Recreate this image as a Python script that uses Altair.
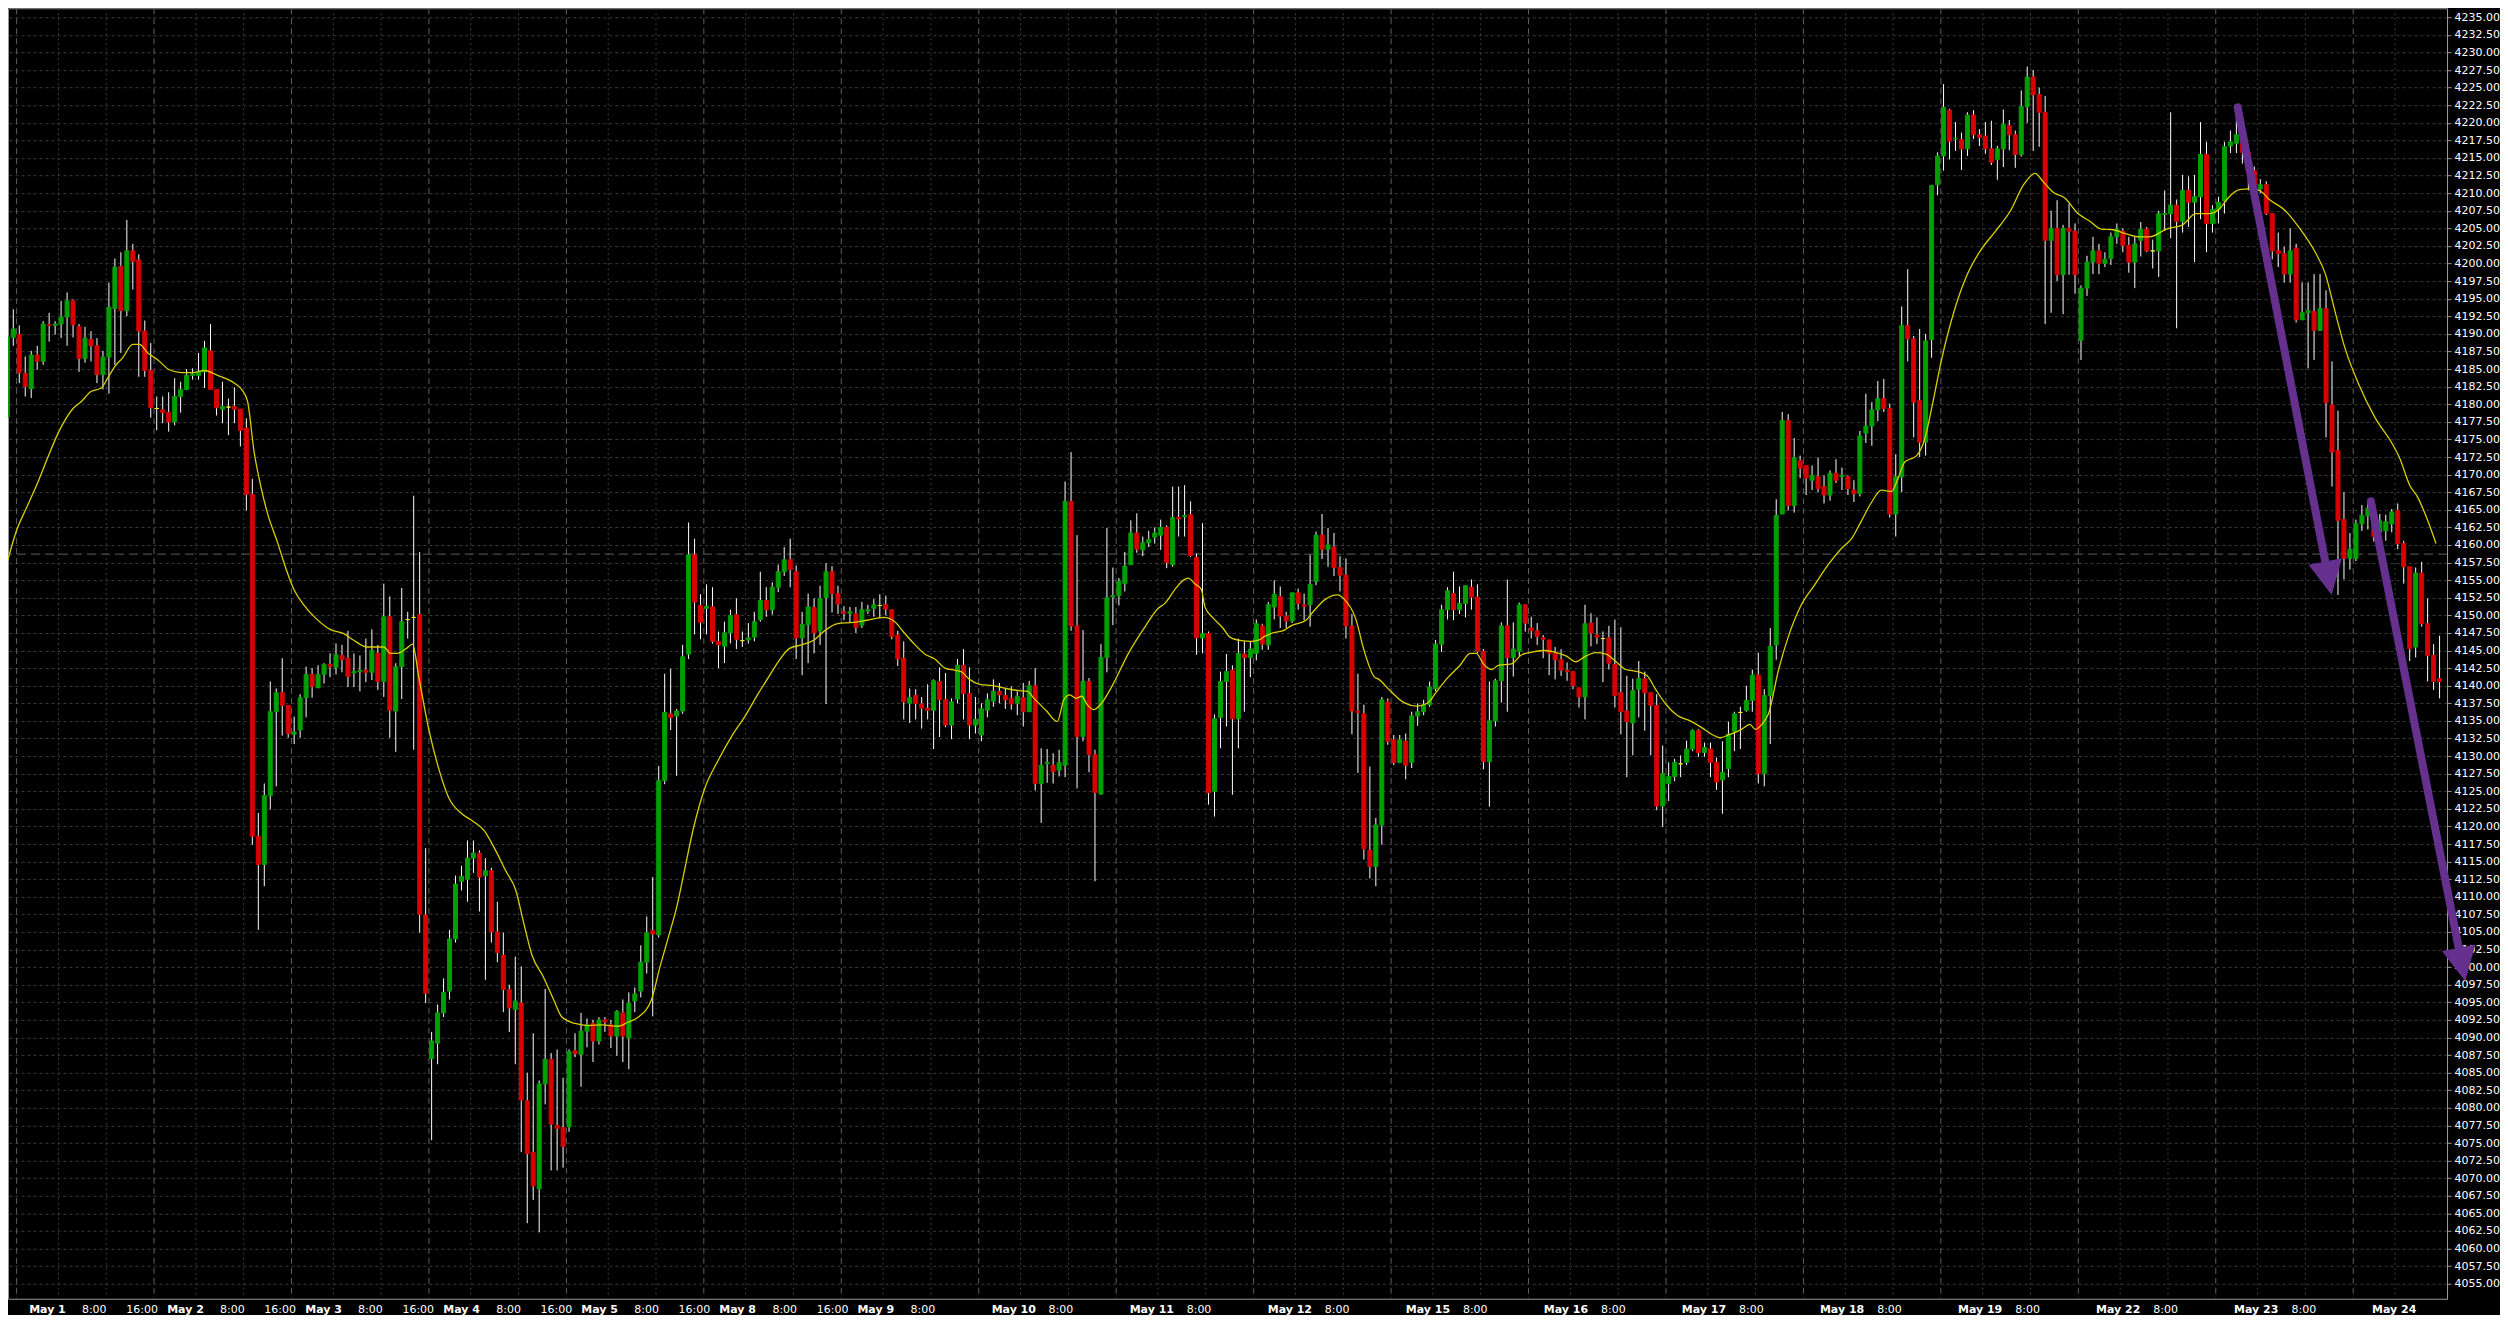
import math
import altair as alt
import pandas as pd

# ---------------- data (hourly OHLC, bar 0 = first visible bar) ----------------
OPEN = [
4178.2,4189.5,4189.9,4184.4,4182.2,4187.0,4186.1,4191.3,4191.2,4191.4,
4192.4,4194.7,4191.0,4186.5,4189.2,4188.3,4184.2,4186.7,4193.6,4199.6,
4193.3,4201.8,4200.5,4190.4,4184.8,4179.4,4179.2,4178.8,4177.5,4181.1,
4182.1,4184.1,4184.1,4184.6,4187.6,4182.1,4179.3,4179.6,4179.7,4179.3,
4176.6,4167.2,4118.6,4114.6,4124.4,4136.3,4139.0,4137.2,4133.1,4133.7,
4138.3,4141.6,4139.7,4141.6,4143.0,4142.6,4144.3,4143.9,4141.8,4142.0,
4142.2,4141.9,4144.6,4140.6,4149.8,4136.4,4142.7,4149.4,4149.7,4150.1,
4107.4,4087.0,4089.2,4093.5,4096.6,4104.0,4112.2,4112.5,4115.5,4116.2,
4113.0,4113.7,4105.0,4101.7,4096.8,4094.0,4094.9,4081.0,4073.7,4068.5,
4083.4,4086.9,4077.5,4077.2,4077.3,4088.1,4087.6,4090.9,4092.0,4089.5,
4092.5,4091.8,4090.2,4093.5,4089.9,4095.2,4096.6,4100.7,4105.2,4104.6,
4126.5,4136.0,4135.7,4136.4,4144.5,4158.6,4151.4,4151.0,4151.2,4146.3,
4145.6,4147.5,4150.1,4146.4,4146.5,4146.9,4149.4,4152.1,4150.8,4154.0,
4156.2,4157.9,4156.2,4146.8,4148.7,4151.1,4147.8,4152.5,4156.2,4153.1,
4150.5,4150.3,4150.2,4148.6,4150.6,4151.0,4151.4,4151.5,4150.8,4147.2,
4143.9,4137.5,4138.6,4137.4,4136.8,4136.5,4140.6,4138.0,4134.4,4138.1,
4142.9,4138.9,4134.4,4133.0,4136.5,4137.8,4139.2,4138.6,4138.2,4137.5,
4138.3,4136.3,4140.0,4126.1,4128.9,4128.7,4128.0,4128.7,4166.2,4148.5,
4132.8,4140.6,4130.2,4124.6,4144.0,4152.6,4152.8,4154.5,4157.2,4161.7,
4159.3,4160.3,4161.1,4161.4,4162.5,4157.2,4163.9,4164.0,4164.3,4158.2,
4146.8,4147.4,4125.0,4135.5,4140.6,4142.2,4135.3,4144.5,4144.0,4144.6,
4148.5,4145.8,4151.2,4152.7,4149.9,4149.2,4153.2,4151.5,4151.5,4154.8,
4161.4,4159.4,4159.7,4156.8,4155.7,4148.5,4136.4,4136.0,4116.6,4114.3,
4120.2,4137.7,4132.3,4129.1,4132.1,4129.1,4135.7,4136.3,4137.3,4139.6,
4145.9,4150.8,4153.1,4150.8,4151.7,4154.0,4152.6,4144.9,4129.2,4135.0,
4140.7,4148.5,4144.0,4144.9,4151.5,4148.2,4147.8,4146.8,4146.5,4144.6,
4143.7,4142.2,4142.0,4139.7,4138.4,4148.9,4147.2,4146.7,4146.8,4143.0,
4139.0,4136.4,4134.7,4139.5,4141.0,4139.0,4137.2,4122.9,4126.1,4127.1,
4128.9,4129.1,4131.0,4133.6,4130.5,4131.0,4129.1,4126.6,4128.2,4133.5,
4136.2,4136.5,4137.9,4141.5,4127.5,4138.6,4145.8,4164.4,4177.7,4165.6,
4172.0,4171.3,4169.2,4169.7,4168.3,4167.1,4170.2,4169.7,4169.7,4167.8,
4167.3,4175.9,4176.9,4179.2,4180.8,4179.4,4164.4,4169.7,4191.2,4189.3,
4180.5,4174.6,4189.2,4211.2,4215.3,4221.8,4217.7,4217.6,4216.3,4221.1,
4218.3,4218.1,4216.3,4214.8,4216.3,4219.6,4218.3,4215.5,4222.3,4226.5,
4224.0,4221.5,4203.3,4205.0,4198.4,4205.0,4204.6,4189.1,4196.5,4200.2,
4201.8,4200.0,4200.7,4203.8,4204.6,4202.6,4200.2,4203.3,4204.9,4201.8,
4201.8,4207.0,4207.1,4208.3,4206.0,4210.4,4208.7,4209.5,4215.5,4205.7,
4207.7,4208.9,4216.7,4217.1,4218.1,4215.8,4213.2,4210.6,4211.2,4207.1,
4201.8,4201.4,4198.5,4202.2,4192.0,4193.0,4193.2,4190.5,4193.6,4179.9,
4173.4,4163.6,4158.1,4158.1,4163.0,4164.2,4165.1,4161.8,4162.0,4163.0,
4164.9,4160.2,4156.9,4145.5,4156.0,4148.8,4144.3,4141.0,
]
HIGH = [
4190.0,4193.5,4191.2,4186.8,4187.6,4188.3,4191.8,4193.0,4191.8,4194.7,
4195.9,4194.9,4191.4,4191.0,4190.4,4189.4,4187.6,4197.3,4200.7,4201.6,
4206.2,4202.8,4201.3,4191.9,4188.7,4181.1,4181.1,4181.7,4183.7,4183.2,
4185.0,4185.1,4187.3,4189.0,4191.4,4182.1,4183.2,4180.8,4182.4,4179.3,
4178.0,4169.4,4121.9,4126.1,4140.6,4139.6,4143.9,4137.2,4135.6,4138.8,
4142.7,4142.5,4142.9,4143.2,4144.6,4146.0,4145.8,4147.8,4144.6,4144.3,
4146.7,4148.0,4145.8,4154.5,4152.7,4143.2,4153.9,4150.5,4167.0,4159.0,
4116.9,4090.8,4094.7,4098.4,4105.3,4113.0,4114.4,4118.0,4118.0,4116.6,
4115.5,4114.1,4109.3,4104.9,4097.5,4101.5,4100.1,4085.0,4090.6,4083.9,
4096.9,4087.8,4088.3,4084.3,4088.3,4090.6,4093.5,4092.7,4092.5,4092.9,
4092.9,4092.5,4093.9,4095.4,4096.4,4097.1,4103.1,4107.2,4112.8,4128.6,
4141.7,4142.4,4136.7,4145.8,4163.2,4160.9,4153.0,4154.4,4154.0,4147.7,
4149.1,4150.8,4152.4,4147.7,4148.9,4150.5,4156.2,4154.0,4154.7,4157.2,
4159.7,4160.9,4157.1,4150.5,4153.1,4152.4,4154.2,4157.4,4157.0,4154.2,
4151.3,4151.2,4151.2,4151.9,4151.5,4152.3,4153.0,4152.8,4150.8,4147.8,
4146.3,4139.6,4139.5,4138.4,4140.2,4140.9,4142.6,4141.8,4138.2,4143.8,
4145.2,4142.6,4138.4,4137.5,4138.9,4140.9,4140.4,4139.6,4139.9,4139.2,
4140.4,4140.7,4142.5,4131.1,4131.0,4130.4,4130.9,4169.0,4173.2,4161.4,
4147.9,4141.1,4130.9,4145.9,4162.4,4156.8,4155.3,4159.0,4163.5,4164.5,
4161.2,4162.0,4162.5,4163.6,4162.8,4168.3,4168.3,4168.5,4166.2,4158.8,
4163.1,4147.7,4135.9,4142.0,4144.5,4142.9,4146.7,4146.3,4146.3,4149.4,
4148.8,4151.9,4155.0,4154.1,4150.5,4153.2,4153.8,4153.1,4158.6,4161.9,
4164.4,4162.4,4161.7,4158.4,4158.1,4150.2,4141.7,4137.3,4128.5,4121.2,
4138.4,4138.2,4133.0,4133.0,4133.2,4136.3,4137.5,4138.0,4140.6,4146.5,
4151.5,4154.0,4156.2,4154.1,4154.3,4155.1,4154.4,4145.2,4140.6,4141.0,
4149.0,4155.1,4149.0,4151.8,4151.5,4149.8,4148.9,4147.2,4146.5,4145.5,
4145.2,4143.3,4142.0,4139.7,4151.5,4150.3,4149.7,4147.7,4148.5,4149.4,
4148.3,4141.4,4141.0,4143.5,4142.0,4139.1,4138.8,4131.5,4129.1,4129.6,
4130.1,4132.2,4133.8,4133.8,4131.9,4131.9,4129.8,4132.1,4134.9,4136.3,
4137.0,4140.0,4142.3,4144.7,4139.5,4148.2,4166.5,4178.9,4178.6,4175.2,
4172.7,4171.3,4171.3,4172.4,4169.9,4170.6,4172.2,4171.0,4169.9,4169.2,
4176.2,4181.5,4180.3,4183.3,4183.6,4180.1,4172.9,4193.9,4199.2,4189.7,
4190.7,4190.0,4211.2,4215.8,4225.5,4222.0,4220.1,4218.6,4221.5,4221.8,
4219.1,4220.1,4220.3,4216.7,4221.9,4220.4,4218.9,4224.6,4228.0,4227.5,
4225.0,4223.8,4207.5,4209.0,4205.5,4208.5,4205.7,4196.9,4201.1,4203.8,
4202.8,4201.6,4204.4,4205.7,4205.0,4203.8,4203.8,4205.9,4205.2,4203.4,
4207.5,4210.4,4221.5,4209.1,4212.6,4212.4,4212.6,4220.1,4217.3,4208.3,
4209.5,4217.3,4218.9,4222.6,4219.1,4216.9,4213.8,4212.0,4211.7,4207.1,
4204.4,4202.4,4205.0,4202.8,4197.3,4197.3,4198.5,4198.5,4196.2,4186.1,
4179.1,4167.5,4161.7,4163.6,4165.7,4166.3,4166.0,4164.4,4164.3,4165.1,
4165.9,4160.6,4156.9,4156.8,4157.6,4152.4,4145.9,4147.1,
]
LOW = [
4176.3,4188.3,4183.0,4181.1,4180.9,4184.9,4185.6,4188.9,4189.9,4189.4,
4188.3,4189.5,4184.6,4185.9,4186.1,4183.0,4182.1,4181.5,4185.6,4187.3,
4192.5,4196.3,4183.9,4183.9,4178.1,4176.3,4177.3,4176.1,4177.0,4178.8,
4182.0,4183.5,4183.5,4182.3,4182.1,4178.4,4177.3,4175.6,4177.3,4174.0,
4164.9,4117.4,4105.3,4111.5,4122.4,4125.7,4132.9,4132.6,4131.7,4132.6,
4135.5,4138.3,4139.7,4140.3,4141.2,4141.6,4141.9,4139.8,4139.8,4139.2,
4140.5,4140.8,4139.4,4138.4,4132.6,4130.6,4138.1,4146.7,4130.9,4104.9,
4094.9,4075.4,4086.2,4092.9,4095.4,4103.5,4110.9,4109.3,4113.4,4107.9,
4098.2,4103.5,4100.7,4093.6,4090.8,4086.2,4073.7,4063.6,4066.9,4062.3,
4080.5,4071.1,4071.1,4071.5,4076.6,4087.2,4083.0,4088.6,4086.5,4089.0,
4090.8,4088.5,4087.4,4086.5,4085.5,4093.6,4095.7,4099.1,4093.0,4104.2,
4126.0,4133.7,4127.2,4136.0,4143.8,4147.3,4146.6,4147.3,4146.0,4142.5,
4143.2,4146.0,4145.2,4145.5,4146.0,4146.3,4149.1,4149.8,4150.1,4153.3,
4155.6,4154.0,4143.8,4141.5,4143.2,4144.6,4145.8,4137.4,4150.4,4150.2,
4149.3,4149.0,4147.5,4148.2,4150.2,4149.8,4149.6,4150.0,4146.6,4142.8,
4135.2,4134.7,4135.2,4133.9,4135.2,4131.0,4132.7,4134.1,4132.4,4137.5,
4135.2,4132.4,4133.2,4132.1,4135.5,4137.0,4137.5,4136.7,4136.6,4135.8,
4134.2,4136.3,4125.1,4120.5,4126.2,4126.1,4127.1,4127.0,4147.8,4125.4,
4132.1,4127.7,4112.2,4124.5,4141.9,4148.6,4151.4,4153.4,4157.2,4158.9,
4158.4,4159.7,4160.2,4159.3,4156.7,4156.9,4161.2,4161.2,4158.3,4144.4,
4144.6,4123.1,4121.4,4131.1,4134.2,4124.5,4131.1,4136.3,4141.2,4143.6,
4145.1,4145.1,4149.4,4148.2,4148.2,4148.9,4150.8,4149.3,4148.4,4154.3,
4158.0,4156.9,4155.6,4153.4,4146.7,4133.1,4127.6,4115.3,4112.6,4111.5,
4117.4,4131.6,4128.7,4129.0,4126.7,4128.3,4134.3,4135.8,4137.0,4139.2,
4144.8,4149.4,4149.3,4150.2,4149.7,4150.8,4144.6,4128.1,4122.8,4134.2,
4137.6,4136.3,4141.3,4144.2,4147.7,4146.7,4145.8,4143.9,4141.5,4140.9,
4141.4,4140.7,4139.5,4136.9,4135.2,4145.6,4145.9,4140.5,4142.3,4136.9,
4133.1,4127.0,4130.1,4135.5,4133.6,4130.1,4122.3,4119.9,4123.6,4126.4,
4127.0,4128.7,4130.7,4129.9,4129.9,4127.0,4125.2,4121.8,4127.0,4130.7,
4131.0,4136.3,4136.3,4126.1,4125.7,4131.7,4143.7,4164.4,4164.9,4164.6,
4169.5,4167.1,4167.8,4167.5,4165.9,4166.3,4168.8,4167.8,4167.1,4166.1,
4166.9,4174.5,4174.1,4177.6,4178.9,4163.9,4161.2,4167.5,4186.1,4175.3,
4172.5,4172.7,4186.6,4209.7,4213.2,4214.8,4216.0,4213.3,4215.3,4217.7,
4216.7,4215.6,4214.0,4211.9,4213.7,4216.1,4213.6,4215.2,4220.0,4216.0,
4216.6,4191.4,4193.0,4197.5,4192.8,4198.4,4195.7,4186.3,4195.4,4198.5,
4198.5,4199.5,4199.8,4202.8,4201.6,4198.7,4196.5,4201.0,4201.6,4199.3,
4198.1,4204.6,4203.6,4190.8,4204.4,4205.2,4200.2,4206.3,4201.6,4204.4,
4205.7,4207.1,4215.7,4215.7,4214.2,4210.4,4209.0,4210.0,4206.9,4200.6,
4199.5,4197.3,4197.3,4191.6,4192.0,4185.1,4186.3,4190.4,4175.3,4168.3,
4152.9,4155.1,4156.5,4157.7,4162.0,4162.2,4160.5,4160.8,4160.6,4161.8,
4159.4,4154.5,4143.5,4144.0,4148.4,4140.6,4139.4,4138.2,
]
CLOSE = [
4189.6,4190.7,4184.5,4182.5,4187.0,4186.1,4191.4,4191.2,4191.4,4192.4,
4194.7,4191.3,4186.5,4189.4,4188.3,4184.2,4186.7,4193.8,4199.5,4193.3,
4201.8,4200.3,4190.4,4184.8,4179.5,4179.4,4178.8,4177.5,4181.1,4182.1,
4184.1,4184.3,4184.6,4188.0,4182.1,4179.5,4179.7,4179.6,4179.3,4176.3,
4167.2,4118.6,4114.6,4124.4,4136.3,4139.0,4137.2,4133.2,4133.4,4138.3,
4141.6,4139.9,4141.6,4143.0,4142.7,4144.4,4143.7,4141.3,4142.0,4142.2,
4141.9,4145.0,4140.6,4149.8,4136.5,4142.7,4149.1,4149.4,4149.7,4107.5,
4096.3,4089.5,4093.5,4096.4,4104.0,4111.8,4112.9,4115.5,4116.2,4112.8,
4113.7,4105.0,4102.1,4096.8,4094.2,4095.2,4081.1,4073.5,4068.9,4083.4,
4086.9,4077.7,4077.1,4074.5,4088.0,4087.7,4090.9,4091.8,4089.5,4092.5,
4092.2,4090.2,4093.7,4090.2,4094.9,4096.2,4100.7,4104.9,4104.7,4126.5,
4136.2,4135.5,4136.4,4144.1,4158.6,4151.9,4149.0,4151.3,4146.3,4145.8,
4147.5,4150.0,4146.6,4146.4,4146.8,4149.1,4152.1,4150.8,4154.0,4156.2,
4157.9,4156.5,4146.8,4148.7,4151.2,4147.5,4152.4,4156.2,4153.1,4151.6,
4150.3,4150.5,4148.3,4150.8,4150.8,4151.5,4151.4,4150.9,4147.0,4143.8,
4137.7,4138.3,4137.5,4136.8,4136.5,4140.7,4138.0,4134.4,4137.7,4142.9,
4138.9,4134.4,4135.2,4136.7,4138.0,4139.2,4138.7,4138.0,4137.4,4138.5,
4136.3,4140.0,4126.1,4128.7,4129.1,4127.8,4129.1,4166.2,4148.5,4132.8,
4140.6,4130.2,4124.8,4144.0,4152.5,4152.8,4154.8,4157.0,4161.7,4159.4,
4160.3,4160.8,4161.7,4162.5,4157.5,4163.9,4163.7,4164.2,4158.5,4146.8,
4147.4,4124.8,4135.3,4140.6,4142.0,4135.3,4144.6,4144.0,4145.2,4148.8,
4145.9,4151.5,4153.0,4149.9,4149.2,4153.2,4151.7,4151.3,4154.4,4161.4,
4159.4,4160.0,4156.8,4155.7,4148.5,4136.4,4136.2,4116.8,4114.3,4120.2,
4138.0,4132.1,4129.1,4132.3,4128.7,4135.7,4136.3,4137.3,4139.8,4145.9,
4150.8,4153.5,4150.8,4151.7,4154.2,4152.6,4144.9,4129.2,4135.0,4140.7,
4148.5,4144.0,4145.2,4151.5,4148.9,4147.8,4147.0,4146.6,4144.6,4143.7,
4142.2,4142.0,4140.0,4138.4,4148.8,4147.5,4146.9,4146.7,4143.2,4138.6,
4136.3,4134.9,4139.3,4141.0,4139.0,4137.2,4122.9,4127.5,4127.1,4129.1,
4128.9,4131.0,4133.6,4130.5,4131.2,4129.1,4126.3,4127.7,4133.1,4136.0,
4136.2,4137.9,4141.5,4127.5,4138.6,4145.6,4164.2,4177.7,4165.6,4172.4,
4170.9,4169.5,4169.9,4168.0,4167.1,4170.2,4169.2,4169.9,4168.0,4167.3,
4175.5,4176.9,4179.2,4180.8,4179.4,4164.4,4169.7,4191.2,4189.3,4180.3,
4174.6,4189.0,4211.1,4215.3,4222.2,4217.4,4217.8,4216.3,4221.1,4218.3,
4217.9,4216.3,4214.4,4216.3,4219.8,4218.3,4215.5,4222.3,4226.5,4224.0,
4221.5,4203.3,4205.0,4198.4,4205.0,4204.6,4198.4,4196.5,4200.2,4201.8,
4200.0,4200.6,4203.8,4204.9,4202.6,4200.2,4202.8,4204.9,4201.8,4201.8,
4207.1,4207.1,4208.3,4206.0,4210.4,4208.7,4209.5,4215.5,4205.7,4207.7,
4208.7,4216.6,4217.3,4218.3,4215.8,4213.2,4211.2,4211.2,4207.1,4201.8,
4201.4,4198.5,4201.8,4192.0,4193.0,4193.3,4190.5,4193.6,4180.2,4173.2,
4163.5,4158.1,4159.4,4163.0,4164.2,4165.2,4161.2,4163.4,4163.3,4164.7,
4160.2,4156.9,4145.3,4156.0,4148.8,4144.3,4140.6,4140.6,
]

# moving average (yellow line), read at bar positions
MA_BAR = [
-0.4,1.6,3.0,5.2,6.8,8.5,11.0,12.4,14.0,15.7,16.8,18.0,19.3,21.0,22.1,23.5,25.2,27.1,29.1,31.0,
33.0,35.2,38.0,39.3,40.2,41.3,42.4,43.5,45.2,46.6,48.0,49.6,51.6,54.0,56.3,57.9,60.2,63.0,64.1,65.2,
66.8,67.8,68.9,70.6,72.3,73.9,75.9,77.8,79.8,81.7,83.4,85.1,86.4,87.8,89.7,91.4,92.8,95.0,97.2,99.5,
102.2,103.9,105.6,107.8,109.2,110.6,112.0,113.4,114.8,116.7,118.9,121.2,123.4,125.6,127.3,129.0,130.9,132.9,135.0,136.9,
138.8,141.6,143.8,146.6,148.5,149.9,151.9,153.5,155.2,156.9,158.5,159.6,161.0,162.7,164.9,167.1,169.3,170.7,171.8,173.8,
175.7,176.8,177.8,178.8,179.8,180.7,181.8,182.9,184.9,187.6,190.4,192.6,193.7,195.4,196.8,197.6,198.7,199.8,200.4,201.8,
203.4,204.6,206.5,208.2,209.5,210.4,211.8,213.7,214.8,217.3,218.4,220.6,222.6,223.7,225.6,227.0,228.7,229.5,231.5,233.7,
235.9,237.6,239.2,240.9,243.1,244.8,245.8,247.0,248.4,249.5,251.7,253.4,255.3,257.3,259.2,260.9,262.5,263.9,265.8,267.5,
269.2,270.8,272.8,274.4,275.8,277.5,279.4,281.6,283.6,285.2,286.6,288.0,290.2,291.6,292.5,293.6,294.7,296.4,298.0,300.2,
302.4,304.7,306.9,308.6,310.3,311.9,313.6,315.3,316.4,317.5,319.5,320.9,322.0,323.6,325.9,328.0,330.3,332.6,335.2,337.4,
339.3,340.7,342.4,344.3,346.5,348.5,350.4,352.4,354.6,356.8,358.5,361.3,364.0,366.2,368.5,370.1,371.8,373.5,375.1,376.8,
378.5,381.2,383.5,386.2,387.9,389.5,391.2,393.4,396.2,399.0,400.3,402.0,403.4,405.0,406.4,
]
MA_VAL = [
4156.3,4162.2,4164.9,4169.1,4172.5,4175.9,4179.4,4180.4,4181.8,4182.3,4183.7,4185.4,4186.6,4188.5,4188.5,4187.3,4186.3,4184.9,4184.5,4184.5,
4184.8,4184.1,4183.0,4182.0,4180.4,4173.2,4168.4,4164.6,4160.4,4156.7,4153.6,4151.5,4149.6,4148.0,4147.4,4146.5,4145.5,4145.5,4144.6,4144.6,
4145.3,4145.9,4141.0,4133.5,4127.9,4124.0,4121.9,4120.8,4119.4,4116.6,4113.7,4110.9,4106.3,4101.7,4098.6,4095.4,4092.9,4092.0,4091.7,4091.8,
4091.6,4092.2,4092.9,4095.4,4100.0,4104.2,4108.5,4114.1,4119.7,4125.4,4129.3,4132.8,4135.6,4138.8,4141.1,4143.4,4145.3,4145.8,4146.5,4147.9,
4148.8,4149.0,4149.3,4149.7,4149.1,4147.7,4145.8,4144.5,4143.8,4142.5,4142.2,4142.0,4140.9,4140.2,4140.0,4139.6,4139.3,4139.2,4138.2,4136.5,
4134.9,4138.0,4138.7,4138.2,4138.5,4137.3,4136.6,4137.3,4140.0,4144.6,4148.4,4151.0,4151.7,4153.7,4155.0,4155.3,4154.5,4153.7,4151.2,4149.6,
4148.2,4146.9,4146.4,4146.3,4146.5,4147.0,4147.5,4147.9,4148.5,4149.3,4150.4,4152.3,4152.9,4152.3,4149.6,4145.1,4141.3,4140.9,4139.2,4137.6,
4137.1,4137.5,4139.2,4141.0,4142.9,4144.6,4144.6,4143.1,4142.3,4142.9,4143.1,4144.4,4144.8,4145.0,4144.7,4144.2,4143.4,4144.1,4144.7,4144.5,
4143.4,4142.3,4142.0,4141.4,4139.5,4137.4,4135.8,4135.0,4134.0,4133.1,4132.6,4133.0,4133.8,4134.5,4133.8,4134.5,4136.0,4142.3,4146.9,4151.5,
4154.3,4157.2,4159.5,4160.9,4163.5,4166.0,4167.8,4167.6,4169.5,4171.8,4172.7,4175.2,4179.4,4186.1,4193.6,4198.5,4202.0,4204.5,4207.5,4211.2,
4212.8,4211.6,4210.1,4209.3,4207.1,4206.0,4204.9,4204.8,4204.2,4203.8,4203.8,4204.9,4205.5,4207.1,4207.1,4207.7,4209.5,4210.5,4210.6,4210.4,
4209.1,4207.5,4205.1,4201.6,4198.5,4193.2,4187.9,4183.0,4178.1,4174.5,4172.4,4168.5,4166.7,4163.5,4160.2,
]

DAY_NAMES = ["May 1", "May 2", "May 3", "May 4", "May 5", "May 8", "May 9", "May 10", "May 11",
             "May 12", "May 15", "May 16", "May 17", "May 18", "May 19", "May 22", "May 23", "May 24"]
EIGHT_LABEL_DAYS = DAY_NAMES[:-1]
SIXTEEN_LABEL_DAYS = DAY_NAMES[:6]
BARS_PER_DAY = 23
FIRST_DAY_BAR = 2
H8_OFFSET, H16_OFFSET = 7, 15

MARKER_PRICE = [4158.7]               # long-dashed horizontal line
ARROW_START_BAR = [373.2, 395.5]
ARROW_START_PRICE = [4222.2, 4166.2]
ARROW_TIP_BAR = [388.95, 411.3]
ARROW_TIP_PRICE = [4152.9, 4098.0]

Y_TICKS = [4055 + 2.5 * k for k in range(73)]

# ---------------- layout ----------------
W, H = 2440, 1291
XDOM = [0.95, 407.41]
YDOM = [4052.87, 4236.28]
PX_BAR = W / (XDOM[1] - XDOM[0])
PX_PT = H / (YDOM[1] - YDOM[0])

UP, DOWN, DOJI = "#00a000", "#d80000", "#f0f000"
MA_COLOR = "#d8cf00"
PURPLE = "#66308f"
FONT = "DejaVu Sans"

n = min(len(OPEN), len(HIGH), len(LOW), len(CLOSE))
bars = pd.DataFrame({
    "bar": list(range(n)),
    "open": OPEN[:n], "high": HIGH[:n], "low": LOW[:n], "close": CLOSE[:n],
})
bars["dir"] = ["up" if c > o else ("down" if c < o else "doji")
               for o, c in zip(bars["open"], bars["close"])]

m = min(len(MA_BAR), len(MA_VAL))
ma = pd.DataFrame({"bar": MA_BAR[:m], "ma": MA_VAL[:m]})

# grid lines and time-scale labels (labels are centred a little right of their line,
# drifting slightly across the chart as in the terminal's time scale)
vlines, labels = [], []
for d, name in enumerate(DAY_NAMES):
    start = FIRST_DAY_BAR + BARS_PER_DAY * d
    line = start - 0.45
    vlines.append({"pos": line, "kind": "day"})
    labels.append({"pos": line + (31 + 0.6 * d) / PX_BAR, "text": name, "kind": "date"})
    for off, txt, days in ((H8_OFFSET, "8:00", EIGHT_LABEL_DAYS), (H16_OFFSET, "16:00", SIXTEEN_LABEL_DAYS)):
        p = start + off - 0.45
        if p < XDOM[1]:
            vlines.append({"pos": p, "kind": "hour"})
            if name in days:
                labels.append({"pos": p + (36 + 0.65 * d) / PX_BAR, "text": txt, "kind": "time"})
vl = pd.DataFrame(vlines)
lab = pd.DataFrame(labels)

arrows = []
for sb, sp, tb, tp in zip(ARROW_START_BAR, ARROW_START_PRICE, ARROW_TIP_BAR, ARROW_TIP_PRICE):
    dxp = (tb - sb) * PX_BAR
    dyp = (sp - tp) * PX_PT
    L = math.hypot(dxp, dyp)
    ux, uy = dxp / L, dyp / L
    back = 22.0
    arrows.append({
        "sb": sb, "sp": sp, "tb": tb, "tp": tp,
        "eb": tb - back * ux / PX_BAR, "ep": tp + back * uy / PX_PT,
        "ang": (-math.degrees(math.atan2(dxp, dyp))) % 360,
    })
arr = pd.DataFrame(arrows)

xs = alt.Scale(domain=XDOM, nice=False, zero=False)
ys = alt.Scale(domain=YDOM, nice=False, zero=False)
Y_AXIS = alt.Axis(orient="right", values=Y_TICKS, format=".2f", title=None,
                  labelFont=FONT, labelFontSize=11, labelColor="#ffffff",
                  tickColor="#9a9a9a", tickSize=4, labelPadding=3,
                  domainColor="#9a9a9a", grid=True, gridColor="#3a3a3a",
                  gridDash=[3, 3], labelOverlap=False, labelFlush=False)
color_scale = alt.Scale(domain=["up", "down", "doji"], range=[UP, DOWN, DOJI])

hour_lines = alt.Chart(vl).transform_filter(alt.datum.kind == "hour").mark_rule(
    color="#3c3c3c", strokeDash=[2, 3], strokeWidth=1, clip=True
).encode(x=alt.X("pos:Q", scale=xs, axis=None))

day_lines = alt.Chart(vl).transform_filter(alt.datum.kind == "day").mark_rule(
    color="#5e5e5e", strokeDash=[6, 4], strokeWidth=1, clip=True
).encode(x=alt.X("pos:Q", scale=xs, axis=None))

marker = alt.Chart(pd.DataFrame({"p": MARKER_PRICE})).mark_rule(
    color="#5e5e5e", strokeDash=[9, 5], strokeWidth=1, clip=True
).encode(y=alt.Y("p:Q", scale=ys, axis=Y_AXIS))

wicks = alt.Chart(bars).mark_rule(color="#ffffff", strokeWidth=1, clip=True).encode(
    x=alt.X("bar:Q", scale=xs, axis=None),
    y=alt.Y("low:Q", scale=ys, axis=Y_AXIS),
    y2="high:Q",
)

bodies = alt.Chart(bars).mark_bar(size=4, strokeWidth=1, clip=True).encode(
    x=alt.X("bar:Q", scale=xs, axis=None),
    y=alt.Y("open:Q", scale=ys, axis=Y_AXIS),
    y2="close:Q",
    color=alt.Color("dir:N", scale=color_scale, legend=None),
    stroke=alt.Stroke("dir:N", scale=color_scale, legend=None),
)

ma_line = alt.Chart(ma).mark_line(color=MA_COLOR, strokeWidth=1.3, clip=True,
                                  interpolate="monotone").encode(
    x=alt.X("bar:Q", scale=xs, axis=None),
    y=alt.Y("ma:Q", scale=ys, axis=Y_AXIS),
)

shafts = alt.Chart(arr).mark_rule(color=PURPLE, strokeWidth=8, strokeCap="round").encode(
    x=alt.X("sb:Q", scale=xs, axis=None), x2="eb:Q",
    y=alt.Y("sp:Q", scale=ys, axis=Y_AXIS), y2="ep:Q",
)
heads = alt.Chart(arr).mark_point(shape="M0,0L-1,-2L1,-2Z", size=1156, filled=True,
                                  opacity=1, color=PURPLE, strokeWidth=0).encode(
    x=alt.X("tb:Q", scale=xs, axis=None),
    y=alt.Y("tp:Q", scale=ys, axis=Y_AXIS),
    angle=alt.Angle("ang:Q", scale=None),
)

date_text = alt.Chart(lab).transform_filter(alt.datum.kind == "date").mark_text(
    align="center", baseline="middle", font=FONT, fontSize=11,
    fontWeight="bold", color="#ffffff"
).encode(x=alt.X("pos:Q", scale=xs, axis=None), y=alt.value(H + 11), text="text:N")

time_text = alt.Chart(lab).transform_filter(alt.datum.kind == "time").mark_text(
    align="center", baseline="middle", font=FONT, fontSize=11,
    fontWeight="normal", color="#ffffff"
).encode(x=alt.X("pos:Q", scale=xs, axis=None), y=alt.value(H + 11), text="text:N")

chart = alt.layer(
    hour_lines, day_lines, marker, wicks, bodies, ma_line, shafts, heads, date_text, time_text
).properties(
    width=W, height=H, padding=0, background="#000000"
).configure_view(
    stroke="#9a9a9a", strokeWidth=1
)

chart.save("out.html", embed_options={"renderer": "svg", "actions": False})
